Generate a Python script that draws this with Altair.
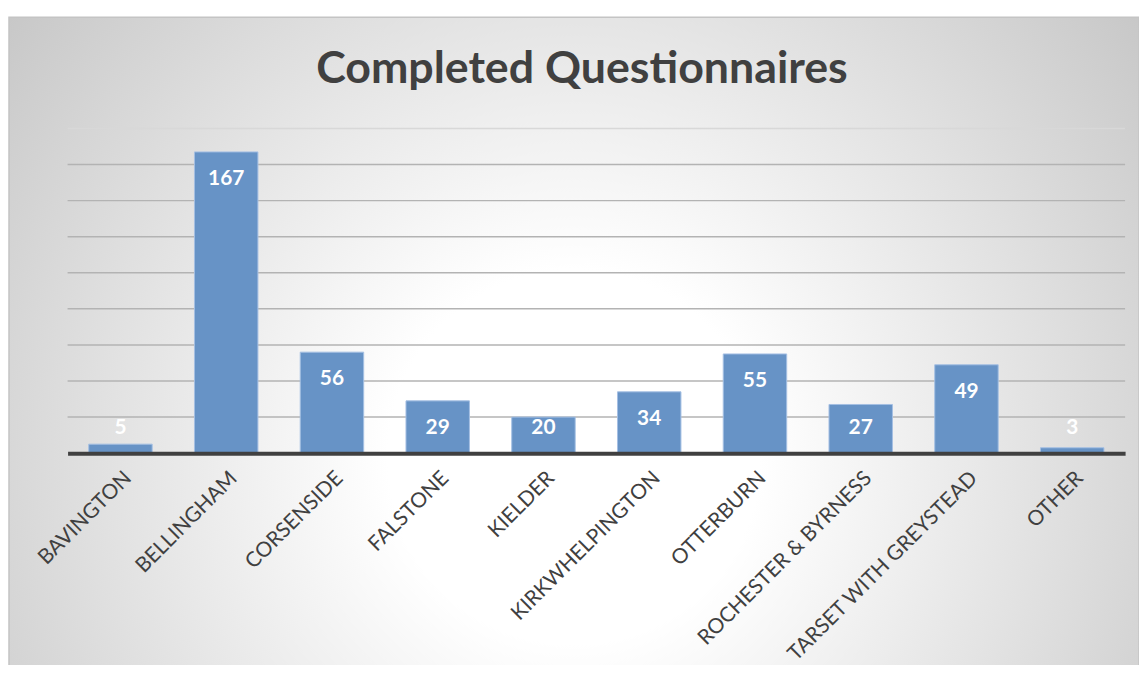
import altair as alt
import pandas as pd

categories = ["BAVINGTON", "BELLINGHAM", "CORSENSIDE", "FALSTONE", "KIELDER",
              "KIRKWHELPINGTON", "OTTERBURN", "ROCHESTER & BYRNESS",
              "TARSET WITH GREYSTEAD", "OTHER"]
values = [5, 167, 56, 29, 20, 34, 55, 27, 49, 3]
grid_values = [20, 40, 60, 80, 100, 120, 140, 160, 180]
title_text = ["Completed Questionnaires"]

W, H = 1065, 327
FONT = "Lato"

df = pd.DataFrame({"area": categories, "count": values})
ydom = alt.Scale(domain=[0, 180], nice=False, zero=True)

bg = alt.Chart(pd.DataFrame({"a": [0]})).mark_rect(
    fill={
        "gradient": "radial",
        "x1": 0.5, "y1": 0.6, "r1": 0,
        "x2": 0.5, "y2": 0.6, "r2": 0.75,
        "stops": [
            {"offset": 0, "color": "#ffffff"},
            {"offset": 0.22, "color": "#ffffff"},
            {"offset": 1, "color": "#bababa"},
        ],
    },
    stroke="#c4c4c4", strokeWidth=1.5,
).encode(x=alt.value(-59), x2=alt.value(1079), y=alt.value(-112), y2=alt.value(545))

grid = alt.Chart(pd.DataFrame({"g": grid_values})).mark_rule(strokeWidth=1.5).encode(
    y=alt.Y("g:Q", scale=ydom, axis=None),
    color=alt.condition("datum.g == 180", alt.value("#d8d8d8"), alt.value("#b3b3b3")),
)

xenc = alt.X(
    "area:N", sort=categories,
    scale=alt.Scale(paddingInner=0.4, paddingOuter=0.2),
    axis=alt.Axis(title=None, labelAngle=-45, labelFont=FONT, labelFontSize=21,
                  labelColor="#404040", labelPadding=14, ticks=False,
                  domainColor="#404040", domainWidth=4, zindex=1,
                  labelLimit=400, labelOverlap=False),
)

bars = alt.Chart(df).mark_bar(
    color="#6793c6", stroke="#a4c0e3", strokeWidth=1
).encode(x=xenc, y=alt.Y("count:Q", scale=ydom, axis=None))

labels = alt.Chart(df).transform_calculate(
    pos="max(datum.count - 15, 13.75)"
).mark_text(
    color="white", fontWeight="bold", fontSize=21, font=FONT, baseline="middle"
).encode(x=alt.X("area:N", sort=categories), y=alt.Y("pos:Q", scale=ydom, axis=None),
         text="count:Q")

title = alt.Chart(pd.DataFrame({"t": title_text})).mark_text(
    font=FONT, fontSize=45, fontWeight="bold", color="#404040",
    baseline="alphabetic", align="center"
).encode(x=alt.value(518), y=alt.value(-46), text="t:N")

chart = alt.layer(bg, grid, bars, labels, title).properties(
    width=W, height=H,
    padding={"left": 60, "top": 119, "right": 14, "bottom": 211},
    autosize=alt.AutoSizeParams(type="none"),
).configure_view(stroke=None).configure(background="white")

chart.save("out.html", embed_options={"renderer": "svg", "actions": False})
